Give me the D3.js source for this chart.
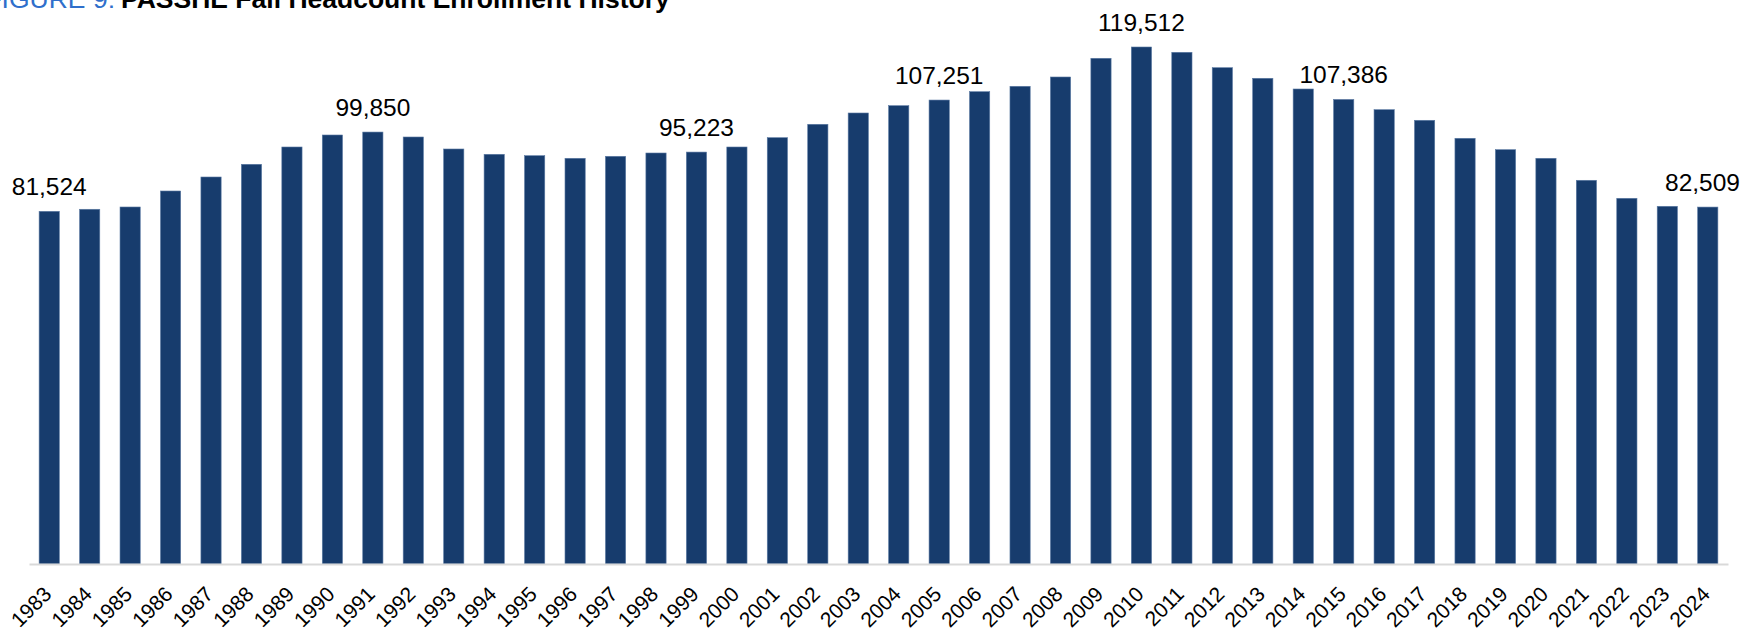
<!DOCTYPE html>
<html lang="en">
<head>
    <meta charset="UTF-8">
    <title>PASSHE Fall Headcount Enrollment History</title>
    <script src="https://cdn.jsdelivr.net/npm/d3@7"></script>
    <style>
        body {
            margin: 0;
            background: #fff;
            font-family: "Liberation Sans", Arial, sans-serif;
        }
        svg { display: block; }
    </style>
</head>
<body>
    <div id="chart"></div>

    <script>
        // Fall headcount by year
        const years = d3.range(1983, 2025).map(String);
        const enrollment = [
            81524, 82000, 82527, 86225, 89461, 92397, 96396, 99170, 99850, 98708,
            95934, 94709, 94385, 93784, 94246, 95009, 95223, 96396, 98547, 101644,
            104256, 105944, 107251, 109180, 110428, 112578, 116901, 119512, 118287, 114727,
            112278, 109804, 107386, 105019, 102568, 98407, 95773, 93784, 88699, 84537,
            82688, 82509
        ];
        // years that carry a data label
        const labeledYears = ["1983", "1991", "1999", "2005", "2010", "2015", "2024"];

        const titlePrefix = "FIGURE 9:";
        const titleText = "PASSHE Fall Headcount Enrollment History";

        const width = 1743, height = 631;
        const baseY = 564;
        const plotLeft = 29, plotRight = 1728;

        const data = years.map((y, i) => ({ year: y, value: enrollment[i] }));

        const svg = d3.select('#chart')
            .append('svg')
            .attr('width', width)
            .attr('height', height);

        const x = d3.scaleBand()
            .domain(years)
            .range([plotLeft, plotRight])
            .paddingInner(0.5)
            .paddingOuter(0.25);

        // axis max sits above the visible frame; 119,512 tops out at y=47
        const yMax = 140000;
        const y = d3.scaleLinear()
            .domain([0, yMax])
            .range([baseY, baseY - 517 * yMax / 119512]);

        // bars
        svg.append('g')
            .selectAll('rect')
            .data(data)
            .join('rect')
            .attr('x', d => x(d.year))
            .attr('y', d => y(d.value))
            .attr('width', x.bandwidth())
            .attr('height', d => y(0) - y(d.value))
            .attr('fill', '#173c6d')
            .attr('stroke', '#5b7aa3')
            .attr('stroke-width', 0.6);

        // category axis
        const xAxis = svg.append('g')
            .attr('transform', `translate(0,${baseY})`)
            .call(d3.axisBottom(x).tickSize(0).tickPadding(0));
        xAxis.select('.domain')
            .attr('stroke', '#d9d9d9')
            .attr('stroke-width', 2);
        xAxis.selectAll('text')
            .attr('font-family', '"Liberation Sans", Arial, sans-serif')
            .attr('font-size', 21)
            .attr('fill', '#000')
            .attr('text-anchor', 'end')
            .attr('dy', 0)
            .attr('transform', 'translate(3.5,31.5) rotate(-45)');

        // data labels
        const labels = svg.append('g')
            .selectAll('text')
            .data(data.filter(d => labeledYears.includes(d.year)))
            .join('text')
            .attr('x', d => x(d.year) + x.bandwidth() / 2)
            .attr('y', d => y(d.value) - 16.5)
            .attr('text-anchor', 'middle')
            .attr('font-size', 24.5)
            .attr('fill', '#000')
            .text(d => d3.format(',')(d.value));

        // keep labels inside the frame, like the source
        labels.each(function () {
            const bb = this.getBBox();
            if (bb.x + bb.width > width - 3) {
                d3.select(this).attr('x', +d3.select(this).attr('x') - (bb.x + bb.width - (width - 3)));
            }
        });

        // title (clipped at the top-left like the source)
        svg.append('text')
            .attr('x', 115)
            .attr('y', 8)
            .attr('text-anchor', 'end')
            .attr('font-size', 26.5)
            .attr('fill', '#2f6fcb')
            .text(titlePrefix);
        svg.append('text')
            .attr('x', 121)
            .attr('y', 8)
            .attr('font-size', 26.5)
            .attr('font-weight', 'bold')
            .attr('fill', '#000')
            .text(titleText);
    </script>
</body>
</html>
